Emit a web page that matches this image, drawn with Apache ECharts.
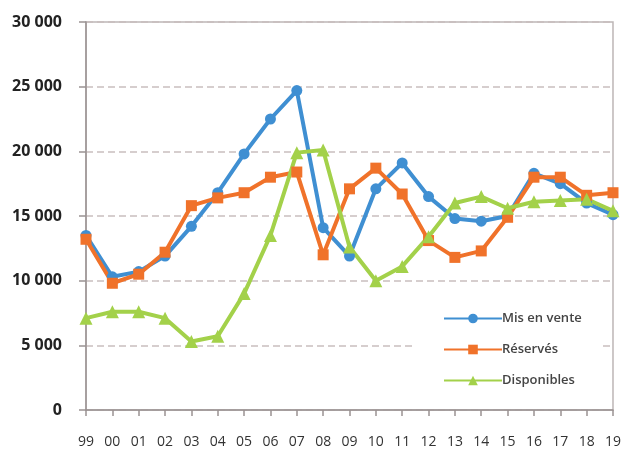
<!DOCTYPE html>
<html>
<head>
<meta charset="utf-8">
<script src="https://cdn.jsdelivr.net/npm/echarts@6/dist/echarts.min.js"></script>
<style>html,body{margin:0;padding:0;background:#fff}#c{width:624px;height:451px}</style>
</head>
<body>
<div id="c"></div>
<script>
var categories = ['99','00','01','02','03','04','05','06','07','08','09','10','11','12','13','14','15','16','17','18','19'];
var misEnVente = [13500,10300,10700,11900,14200,16800,19800,22500,24700,14100,11900,17100,19100,16500,14800,14600,15000,18300,17500,16000,15100];
var reserves = [13200,9800,10500,12200,15800,16400,16800,18000,18400,12000,17100,18700,16700,13100,11800,12300,14900,18000,18000,16600,16800];
var disponibles = [7100,7600,7600,7100,5300,5700,9000,13500,19900,20100,12600,10000,11100,13400,16000,16500,15600,16100,16200,16300,15400];
var yTicks = { min: 0, max: 30000, interval: 5000 };

var chart = echarts.init(document.getElementById('c'));
var fontFam = '"Open Sans", "DejaVu Sans", sans-serif';
function mk(name, data, color, symbol, size) {
  return {
    name: name, type: 'line', data: data, symbol: symbol, symbolSize: size,
    lineStyle: { color: color, width: 4 },
    itemStyle: { color: color },
    emphasis: { disabled: true }
  };
}
chart.setOption({
  animation: false,
  grid: { left: 86, right: 11, top: 22, bottom: 41, show: true, borderColor: '#bdb6b6', borderWidth: 1.5, backgroundColor: 'transparent' },
  legend: {
    orient: 'vertical', left: 415, top: 309,
    backgroundColor: '#fff', padding: [3, 20, 3, 28],
    itemWidth: 58, itemHeight: 12, itemGap: 18,
    textStyle: { fontFamily: fontFam, fontSize: 13, fontWeight: 600, color: '#444', padding: [0, 0, 0, -5] },
    data: ['Mis en vente', 'Réservés', 'Disponibles']
  },
  xAxis: {
    type: 'category', data: categories, boundaryGap: false,
    axisLine: { lineStyle: { color: '#9a9393', width: 1.5 } },
    axisTick: { show: true, length: 6, lineStyle: { color: '#9a9393', width: 1.5 }, alignWithLabel: true },
    axisLabel: { fontFamily: fontFam, fontSize: 14, color: '#333', margin: 25 },
    splitLine: { show: false }
  },
  yAxis: {
    type: 'value', min: yTicks.min, max: yTicks.max, interval: yTicks.interval,
    axisLine: { show: true, lineStyle: { color: '#9a9393', width: 1.5 } },
    axisTick: { show: true, length: 7, lineStyle: { color: '#9a9393', width: 1.5 } },
    axisLabel: {
      fontFamily: fontFam, fontSize: 16, fontWeight: 'bold', color: '#222', margin: 24,
      formatter: function (v) { return v >= 1000 ? Math.floor(v / 1000) + ' 000' : String(v); }
    },
    splitLine: { show: true, lineStyle: { color: '#c9bfbf', type: [7, 4], width: 1.5 } }
  },
  series: [
    mk('Mis en vente', misEnVente, '#3f8fd2', 'circle', 11),
    mk('Réservés', reserves, '#f0722a', 'rect', 11),
    mk('Disponibles', disponibles, '#a3d14a', 'triangle', 13)
  ]
});
</script>
</body>
</html>
